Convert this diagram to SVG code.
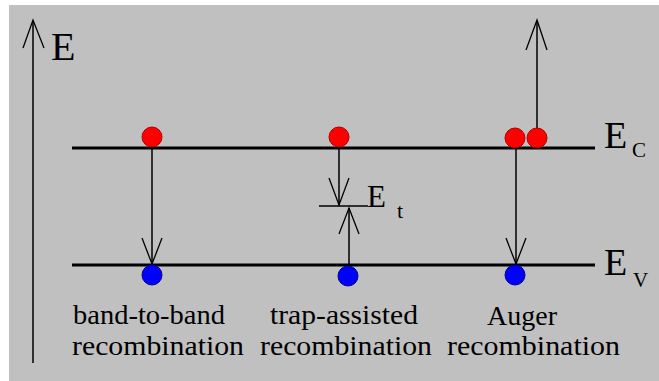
<svg xmlns="http://www.w3.org/2000/svg" width="659" height="381" viewBox="0 0 659 381">
<style>
.band{stroke:#000;stroke-width:3;fill:none}
.ln{stroke:#000;stroke-width:1.5;fill:none}
.head{stroke:#000;stroke-width:1.3;fill:none}
.el{fill:#ff0000;stroke:#b00000;stroke-width:1}
.ho{fill:#0000ff;stroke:#000090;stroke-width:1}
.big{font-family:"Liberation Serif","Times New Roman",serif;fill:#000}
.lbl{font-family:"Liberation Serif","Times New Roman",serif;font-size:28px;fill:#000}
</style>
<rect x="0" y="0" width="659" height="381" fill="#ffffff"/>
<rect x="9" y="5" width="650" height="376" fill="#c0c0c0"/>

<g id="energy-axis">
  <line class="ln" x1="33" y1="363" x2="33" y2="21"/>
  <path class="head" d="M23,48 L33,20 L44,48"/>
  <text class="big" x="51" y="60" font-size="40">E</text>
</g>

<g id="Ec">
  <line class="band" x1="72" y1="148" x2="595" y2="148"/>
  <text class="big" x="604" y="148" font-size="38">E</text>
  <text class="big" x="632" y="157" font-size="21">C</text>
</g>
<g id="Ev">
  <line class="band" x1="72" y1="265" x2="595" y2="265"/>
  <text class="big" x="604" y="275" font-size="38">E</text>
  <text class="big" x="633" y="287" font-size="21">V</text>
</g>
<g id="Et">
  <line class="ln" x1="319" y1="206" x2="368" y2="206"/>
  <text class="big" x="367" y="207" font-size="31">E</text>
  <text class="big" x="397" y="218" font-size="22">t</text>
</g>

<g id="connectors">
  <line class="ln" x1="152" y1="148" x2="152" y2="264"/>
  <path class="head" d="M142,238 L152,264 L162,238"/>
  <line class="ln" x1="339" y1="148" x2="339" y2="205"/>
  <path class="head" d="M329,178 L339,205 L349,178"/>
  <line class="ln" x1="349" y1="265" x2="349" y2="208"/>
  <path class="head" d="M339,234 L349,208 L359,234"/>
  <line class="ln" x1="516" y1="148" x2="516" y2="264"/>
  <path class="head" d="M506,238 L516,264 L526,238"/>
  <line class="ln" x1="537" y1="130" x2="537" y2="21"/>
  <path class="head" d="M526,50 L537,20 L547,50"/>
</g>

<g id="band-to-band">
  <circle class="el" cx="152" cy="137" r="10"/>
  <circle class="ho" cx="152" cy="275" r="10"/>
  <text class="lbl" x="73" y="324" textLength="152" lengthAdjust="spacingAndGlyphs">band-to-band</text>
  <text class="lbl" x="72" y="355" textLength="172" lengthAdjust="spacingAndGlyphs">recombination</text>
</g>
<g id="trap-assisted">
  <circle class="el" cx="339" cy="137" r="10"/>
  <circle class="ho" cx="348" cy="276" r="10"/>
  <text class="lbl" x="270" y="324" textLength="148" lengthAdjust="spacingAndGlyphs">trap-assisted</text>
  <text class="lbl" x="260" y="355" textLength="172" lengthAdjust="spacingAndGlyphs">recombination</text>
</g>
<g id="auger">
  <circle class="el" cx="515" cy="138" r="10"/>
  <circle class="el" cx="537" cy="138" r="10"/>
  <circle class="ho" cx="515" cy="275" r="10"/>
  <text class="lbl" x="487" y="325" textLength="70" lengthAdjust="spacingAndGlyphs">Auger</text>
  <text class="lbl" x="447" y="355" textLength="173" lengthAdjust="spacingAndGlyphs">recombination</text>
</g>
</svg>
